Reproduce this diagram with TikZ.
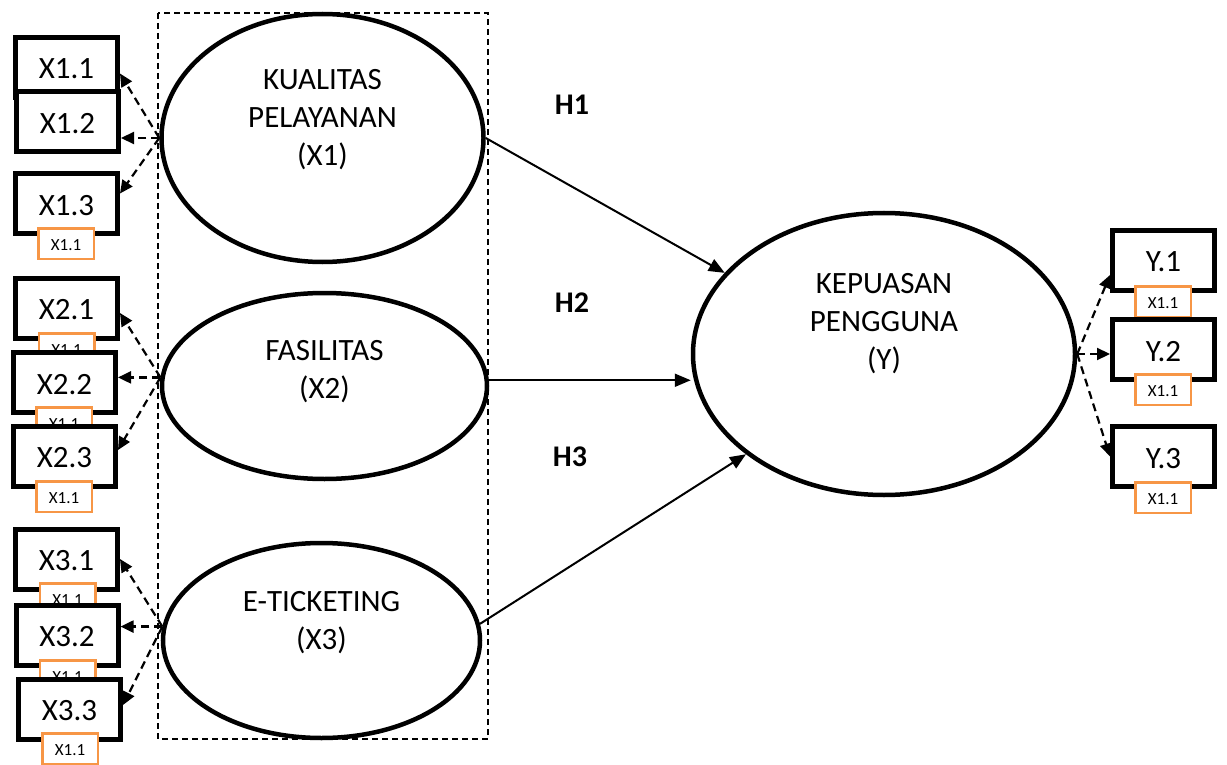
\documentclass[tikz,border=0pt]{standalone}
\usepackage{fontspec}
\setmainfont{Carlito}
\usetikzlibrary{arrows.meta,calc,shapes.geometric}
\definecolor{orng}{HTML}{F79646}
\begin{document}
\begin{tikzpicture}[x=1pt,y=-1pt,
  latent/.style={ellipse, draw, line width=4.5pt, fill=white, inner sep=0pt},
  ind/.style={draw, line width=5pt, fill=white, minimum width=102pt, minimum height=60pt,
    inner sep=0pt, font=\fontsize{31}{37}\selectfont, text height=23pt, text depth=0pt},
  err/.style={draw=orng, line width=2.5pt, fill=white, minimum width=55.5pt, minimum height=30.5pt,
    inner sep=0pt, font=\fontsize{17}{20}\selectfont, text height=13pt, text depth=0pt},
  lbl/.style={anchor=base, inner sep=0pt, font=\fontsize{31}{38}\selectfont},
  hyp/.style={inner sep=0pt, font=\fontsize{30}{36}\selectfont\bfseries},
  dasharrow/.style={draw, line width=2.2pt, dash pattern=on 8pt off 5pt, -{Triangle[length=13pt,width=12pt]}},
  path/.style={draw, line width=2pt, -{Triangle[length=16pt,width=13pt]}},
  frame/.style={draw, line width=1.5pt, dash pattern=on 6pt off 4pt}
]
\useasboundingbox (0,0) rectangle (1227,765);

% dashed frame
\draw[frame] (158,13) rectangle (488,739);

% latent variables
\node[latent, minimum width=322pt, minimum height=248pt] (X1) at (322.5,138) {};
\node[latent, minimum width=325pt, minimum height=186pt] (X2) at (324.5,386) {};
\node[latent, minimum width=317pt, minimum height=195pt] (X3) at (321.5,640.5) {};
\node[latent, minimum width=382pt, minimum height=282pt] (Y) at (884,354) {};

\node[lbl] (tX1) at (322.5,90) {\begin{tabular}[t]{@{}c@{}}KUALITAS\\PELAYANAN\\(X1)\end{tabular}};
\node[lbl] (tX2) at (324.5,360) {\begin{tabular}[t]{@{}c@{}}FASILITAS\\(X2)\end{tabular}};
\node[lbl] (tX3) at (321.5,611) {\begin{tabular}[t]{@{}c@{}}E-TICKETING\\(X3)\end{tabular}};
\node[lbl] (tY) at (884,293) {\begin{tabular}[t]{@{}c@{}}KEPUASAN\\PENGGUNA\\(Y)\end{tabular}};

% hypotheses
\node[hyp] (H1) at (572,105) {H1};
\node[hyp] (H2) at (572,303) {H2};
\node[hyp] (H3) at (570,457) {H3};

% structural paths
\draw[path] (X1.east) -- (Y.153);
\draw[path] (X2.2) -- (X2.2 -| Y.west);
\draw[path] (X3.6) -- (Y.216);

% indicators X1
\node[ind] (X11) at (66.5,67.5) {X1.1};
\node[ind] (X12) at (67.5,122) {X1.2};
\node[ind] (X13) at (66.5,203.5) {X1.3};
\node[err] (e13) at (66,243.5) {X1.1};
% indicators X2
\node[ind] (X21) at (66.5,308) {X2.1};
\node[err] (e21) at (66.5,348.5) {X1.1};
\node[ind] (X22) at (64.5,382.5) {X2.2};
\node[err] (e22) at (64,422.5) {X1.1};
\node[ind] (X23) at (64.5,456) {X2.3};
\node[err] (e23) at (64,496.5) {X1.1};
% indicators X3
\node[ind] (X31) at (66.5,559) {X3.1};
\node[err] (e31) at (67.5,598.5) {X1.1};
\node[ind] (X32) at (67,635) {X3.2};
\node[err] (e32) at (67.5,675.5) {X1.1};
\node[ind] (X33) at (69.5,709) {X3.3};
\node[err] (e33) at (70,748.5) {X1.1};
% indicators Y
\node[ind] (Y1) at (1163.5,260) {Y.1};
\node[err] (ey1) at (1163,301.5) {X1.1};
\node[ind] (Y2) at (1163.5,349.5) {Y.2};
\node[err] (ey2) at (1163,389.5) {X1.1};
\node[ind] (Y3) at (1163.5,456.5) {Y.3};
\node[err] (ey3) at (1163,497.5) {X1.1};

% loadings
\draw[dasharrow] (X1.west) -- ($(X11.east)+(0,6)$);
\draw[dasharrow] (X1.west) -- (X1.west -| X12.east);
\draw[dasharrow] (X1.west) -- ($(X13.east)+(0,-10)$);

\draw[dasharrow] (X2.177) -- ($(X21.east)+(0,5)$);
\draw[dasharrow] (X2.177) -- (X2.177 -| X22.east);
\draw[dasharrow] (X2.177) -- ($(X23.east)+(0,-6)$);

\draw[dasharrow] (X3.175) -- (X31.east);
\draw[dasharrow] (X3.175) -- (X3.175 -| X32.east);
\draw[dasharrow] (X3.175) -- ($(X33.east)+(0,-4)$);

\draw[dasharrow] (Y.east) -- ($(Y1.west)+(0,15)$);
\draw[dasharrow] (Y.east) -- (Y.east -| Y2.west);
\draw[dasharrow] (Y.east) -- (Y3.west);
\end{tikzpicture}
\end{document}
